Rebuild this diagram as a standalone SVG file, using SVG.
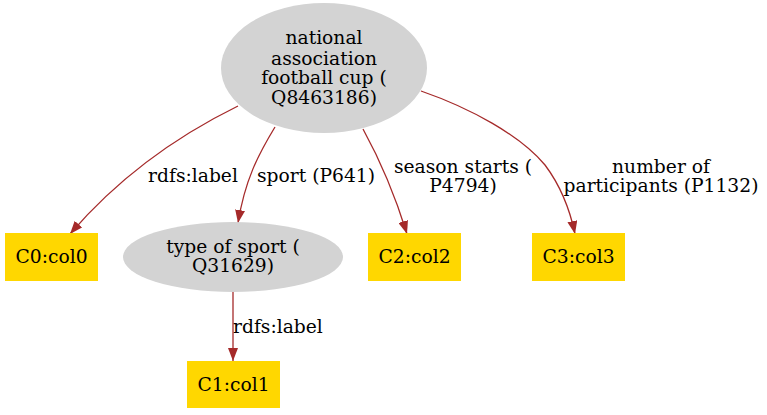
<svg xmlns="http://www.w3.org/2000/svg" width="767" height="415" viewBox="0 0 767 415">
<style>
text{font-family:"DejaVu Serif","Liberation Serif",serif;font-size:18.7px;fill:#000;text-anchor:middle}
.ell{fill:#d3d3d3;stroke:none}
.box{fill:#ffd700;stroke:none}
.edge{fill:none;stroke:#a52a2a;stroke-width:1.3}
</style>
<defs>
<marker id="arr" viewBox="0 0 13 10" markerWidth="13" markerHeight="10" refX="13" refY="5" orient="auto" markerUnits="userSpaceOnUse">
<path d="M0,0 L13,5 L0,10 z" fill="#a52a2a"/>
</marker>
</defs>
<rect width="767" height="415" fill="#fff"/>
<g id="connectors">
<path class="edge" d="M238,106 C185,132 125,170 70,234" marker-end="url(#arr)"/>
<path class="edge" d="M275,127 C258,155 245,180 238,223" marker-end="url(#arr)"/>
<path class="edge" d="M363,129 C380,160 395,195 407,234" marker-end="url(#arr)"/>
<path class="edge" d="M421,91 C470,108 520,135 545,165 C560,185 570,210 575,234" marker-end="url(#arr)"/>
<path class="edge" d="M233,292 L233,361" marker-end="url(#arr)"/>
<text x="193" y="182">rdfs:label</text>
<text x="316" y="182">sport (P641)</text>
<text x="463" y="173">season starts (</text>
<text x="463" y="192">P4794)</text>
<text x="661" y="173">number of</text>
<text x="661" y="192">participants (P1132)</text>
<text x="233" y="333" style="text-anchor:start">rdfs:label</text>
</g>
<g id="n0">
<ellipse class="ell" cx="324" cy="68" rx="103" ry="65"/>
<text x="324" y="44">national</text>
<text x="324" y="65">association</text>
<text x="324" y="84">football cup (</text>
<text x="324" y="104">Q8463186)</text>
</g>
<g id="c0">
<rect class="box" x="5" y="233" width="93" height="48"/>
<text x="51.5" y="263">C0:col0</text>
</g>
<g id="n1">
<ellipse class="ell" cx="233" cy="257" rx="110" ry="35"/>
<text x="233" y="253">type of sport (</text>
<text x="233" y="272">Q31629)</text>
</g>
<g id="c2">
<rect class="box" x="368" y="233" width="93" height="48"/>
<text x="414.5" y="263">C2:col2</text>
</g>
<g id="c3">
<rect class="box" x="532" y="233" width="93" height="48"/>
<text x="578.5" y="263">C3:col3</text>
</g>
<g id="c1">
<rect class="box" x="187" y="361" width="93" height="47"/>
<text x="233.5" y="391">C1:col1</text>
</g>
</svg>
